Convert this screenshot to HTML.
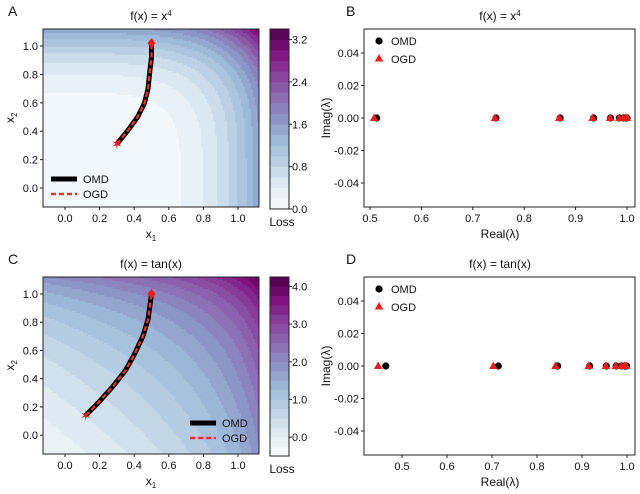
<!DOCTYPE html>
<html><head><meta charset="utf-8"><style>
body{margin:0;background:#fff}
svg{display:block;font-family:"Liberation Sans",sans-serif}
</style></head><body>
<svg id="s" width="640" height="494" viewBox="0 0 640 494"></svg>
<script>
const NS='http://www.w3.org/2000/svg';
const svg=document.getElementById('s');
function el(t,a,p){const e=document.createElementNS(NS,t);for(const k in a)e.setAttribute(k,a[k]);(p||svg).appendChild(e);return e;}
function tx(x,y,s,o,p){const e=el('text',Object.assign({x:x,y:y,'font-size':11,fill:'#111'},o||{}),p);e.textContent=s;return e;}

// Data
const eigB_omd=[0.513,0.745,0.870,0.935,0.968,0.985,0.993,0.998,1.0];
const eigB_ogd=[0.508,0.743,0.868,0.933,0.967,0.985,0.993,0.998,1.0];
const eigD_omd=[0.464,0.714,0.846,0.917,0.954,0.976,0.988,0.995,0.999];
const eigD_ogd=[0.447,0.703,0.841,0.915,0.953,0.975,0.987,0.994,0.998];
const trajA_x1=[0.30,0.36,0.42,0.46,0.48,0.49,0.50,0.50];
const trajA_x2=[0.31,0.40,0.50,0.60,0.70,0.82,0.92,1.02];
const trajC_x1=[0.12,0.20,0.28,0.35,0.40,0.45,0.48,0.50];
const trajC_x2=[0.14,0.24,0.35,0.46,0.57,0.70,0.82,1.00];
const xTicks=[0.0,0.2,0.4,0.6,0.8,1.0];
const cbTicksA=[0.0,0.8,1.6,2.4,3.2];
const cbTicksC=[0.0,1.0,2.0,3.0,4.0];
const eigYTicks=[0.04,0.02,0.0,-0.02,-0.04];

const stops=[[247,252,253],[224,236,244],[191,211,230],[158,188,218],[140,150,198],[140,107,177],[136,65,157],[129,15,124],[77,0,75]];
function cmap(t){t=Math.max(0,Math.min(1,t));const f=t*8,i=Math.min(7,Math.floor(f)),u=f-i;const a=stops[i],b=stops[i+1];
return 'rgb('+a.map((v,k)=>Math.round(v+(b[k]-v)*u)).join(',')+')';}

function contourPanel(name,y0,y1,fn,vmin,vmax,step,cbTicks,cbFmt,tx1,tx2,legPos,title,letter){
  const X0=43,X1=259;
  const sx=v=>65+v*173;
  const sy=v=>(y0+17)+(1-v)*((y1-y0)*142/178);
  const inv_x=p=>(p-65)/173, inv_y=p=>1-(p-(y0+17))/((y1-y0)*142/178);
  const g=el('g',{});
  const hm=el('g',{},g);
  const c=2;
  for(let px=X0;px<X1;px+=c)for(let py=y0;py<y1;py+=c){
    const v=fn(inv_x(px+c/2),inv_y(py+c/2));
    const q=Math.floor((v-vmin)/step)*step+vmin+step/2;
    el('rect',{x:px,y:py,width:Math.min(c+0.4,X1-px),height:Math.min(c+0.4,y1-py),fill:cmap((q-vmin)/(vmax-vmin)),'shape-rendering':'crispEdges'},hm);
  }
  el('rect',{x:X0,y:y0,width:X1-X0,height:y1-y0,fill:'none',stroke:'#222','stroke-width':1,},g);
  xTicks.forEach(v=>{el('line',{x1:sx(v),x2:sx(v),y1:y1,y2:y1+3,stroke:'#222'},g);tx(sx(v),y1+15,v.toFixed(1),{'text-anchor':'middle'},g);});
  [0,0.2,0.4,0.6,0.8,1.0].forEach(v=>{el('line',{x1:X0-3,x2:X0,y1:sy(v),y2:sy(v),stroke:'#222'},g);tx(X0-5,sy(v)+4,v.toFixed(1),{'text-anchor':'end'},g);});
  const xl=tx(151,y1+31,'x',{'text-anchor':'middle','font-size':12,},g);
  el('tspan',{'font-size':8,dy:3},xl).textContent='1';
  const yl=tx(0,0,'x',{'font-size':12,transform:'translate(14,'+((y0+y1)/2+5)+') rotate(-90)',},g);
  el('tspan',{'font-size':8,dy:3},yl).textContent='2';
  const t=tx(151,y0-9,title[0],{'text-anchor':'middle','font-size':12,},g);
  if(title[1]){el('tspan',{'font-size':8,dy:-4},t).textContent=title[1];}
  tx(8,y0-13,letter,{'font-size':14,},g);
  let d='';tx1.forEach((v,i)=>{d+=(i?'L':'M')+sx(v)+','+sy(tx2[i]);});
  el('path',{d:d,fill:'none',stroke:'#000','stroke-width':5,},g);
  el('path',{d:d,fill:'none',stroke:'#e8362c','stroke-width':2.2,'stroke-dasharray':'5,3',},g);
  const s0x=sx(tx1[0]),s0y=sy(tx2[0]);
  tx(s0x,s0y+5,'✶',{'text-anchor':'middle','font-size':14,fill:'#f01c1c',},g);
  const ex=sx(tx1[tx1.length-1]),ey=sy(tx2[tx2.length-1]);
  el('path',{d:`M${ex},${ey-5}L${ex+4},${ey}L${ex},${ey+5}L${ex-4},${ey}Z`,fill:'#f01c1c',},g);
  const lg=el('g',{},g);
  const [lx,ly]=legPos;
  el('line',{x1:lx,x2:lx+26,y1:ly,y2:ly,stroke:'#000','stroke-width':5},lg);
  tx(lx+32,ly+4,'OMD',{},lg);
  el('line',{x1:lx,x2:lx+26,y1:ly+15,y2:ly+15,stroke:'#e8362c','stroke-width':2.5,'stroke-dasharray':'5,3'},lg);
  tx(lx+32,ly+19,'OGD',{},lg);
  const cb=el('g',{},g);
  const CX=270,CW=19,cy0=y0,cy1=y1+2;
  const cs=v=>cy1-(v-vmin)/(vmax-vmin)*(cy1-cy0);
  for(let v=vmin;v<vmax-1e-9;v+=step){
    el('rect',{x:CX,y:cs(v+step),width:CW,height:cs(v)-cs(v+step)+0.3,fill:cmap((v+step/2-vmin)/(vmax-vmin))},cb);
  }
  el('rect',{x:CX,y:cy0,width:CW,height:cy1-cy0,fill:'none',stroke:'#222'},cb);
  cbTicks.forEach(v=>{el('line',{x1:CX+CW,x2:CX+CW+3,y1:cs(v),y2:cs(v),stroke:'#222'},cb);tx(CX+CW+3,cs(v)+4,v.toFixed(1),{},cb);});
  tx(CX+12,cy1+17,'Loss',{'text-anchor':'middle','font-size':12},cb);
}
contourPanel('panel-a',29,207,(a,b)=>a**4+b**4,0,3.4,0.2,cbTicksA,null,trajA_x1,trajA_x2,[51,179],['f(x) = x','4'],'A');
contourPanel('panel-c',277,454,(a,b)=>Math.tan(a)+Math.tan(b),-0.5,4.25,0.25,cbTicksC,null,trajC_x1,trajC_x2,[190,423],['f(x) = tan(x)'],'C');

function eigPanel(name,y0,y1,xs0,x05,omd,ogd,xt,title,letter){
  const X0=364,X1=635;
  const sx=v=>xs0+(v-0.5)*(x05*2);
  const yc=(y0+y1)/2;const sy=v=>yc-v*(65/0.04);
  const g=el('g',{});
  el('rect',{x:X0,y:y0,width:X1-X0,height:y1-y0,fill:'#fff',stroke:'#222',},g);
  xt.forEach(v=>{el('line',{x1:sx(v),x2:sx(v),y1:y1,y2:y1+3,stroke:'#222'},g);tx(sx(v),y1+15,v.toFixed(1),{'text-anchor':'middle'},g);});
  eigYTicks.forEach(v=>{el('line',{x1:X0-3,x2:X0,y1:sy(v),y2:sy(v),stroke:'#222'},g);tx(X0-5,sy(v)+4,v.toFixed(2),{'text-anchor':'end'},g);});
  tx(500,y1+31,'Real(λ)',{'text-anchor':'middle','font-size':12,},g);
  tx(0,0,'Imag(λ)',{'text-anchor':'middle','font-size':12,transform:'translate(330,'+yc+') rotate(-90)',},g);
  const t=tx(500,y0-9,title[0],{'text-anchor':'middle','font-size':12,},g);
  if(title[1]){el('tspan',{'font-size':8,dy:-4},t).textContent=title[1];}
  tx(346,y0-13,letter,{'font-size':14,},g);
  const pts=el('g',{},g);
  omd.forEach(v=>el('circle',{cx:sx(v),cy:sy(0),r:3.6,fill:'#000'},pts));
  const tri=el('g',{},g);
  ogd.forEach(v=>{const x=sx(v),y=sy(0);el('path',{d:`M${x},${y-4.5}L${x+4.2},${y+3}L${x-4.2},${y+3}Z`,fill:'#f01c1c'},tri);});
  const lg=el('g',{},g);
  el('circle',{cx:379,cy:y0+12,r:3.6,fill:'#000'},lg);tx(391,y0+16,'OMD',{},lg);
  el('path',{d:`M379,${y0+25}L383.2,${y0+32.5}L374.8,${y0+32.5}Z`,fill:'#f01c1c'},lg);tx(391,y0+34,'OGD',{},lg);
}
eigPanel('panel-b',29,207,370,257,eigB_omd,eigB_ogd,[0.5,0.6,0.7,0.8,0.9,1.0],['f(x) = x','4'],'B');
eigPanel('panel-d',277,455,402,225,eigD_omd,eigD_ogd,[0.5,0.6,0.7,0.8,0.9,1.0],['f(x) = tan(x)'],'D');
</script>
</body></html>
